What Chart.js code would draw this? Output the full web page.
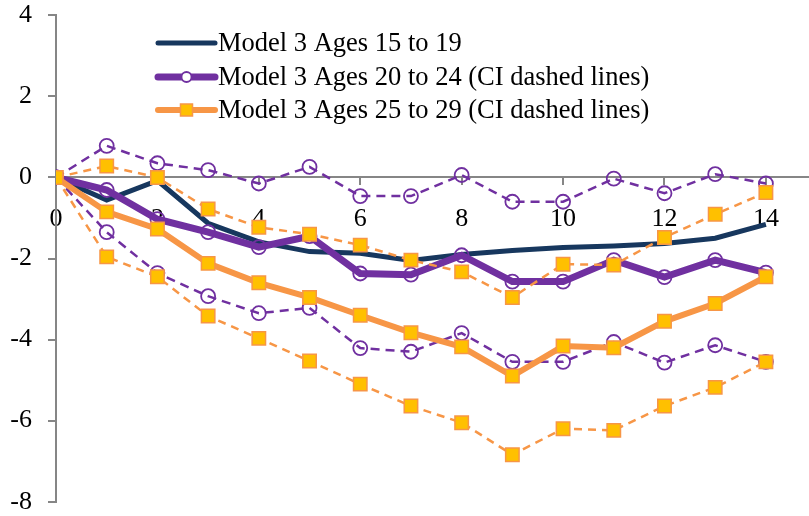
<!DOCTYPE html>
<html>
<head>
<meta charset="utf-8">
<script src="https://cdn.jsdelivr.net/npm/chart.js@4.4.1/dist/chart.umd.min.js"></script>
<style>
html,body{margin:0;padding:0;background:#fff;}
#wrap{width:809px;height:516px;position:relative;}
</style>
</head>
<body>
<div id="wrap"><canvas id="c" width="809" height="516"></canvas></div>
<script>
const years = [0,1,2,3,4,5,6,7,8,9,10,11,12,13,14];
const xTickValues = [0,2,4,6,8,10,12,14];
const yTickValues = [-8,-6,-4,-2,0,2,4];

const ages1519 = [0,-0.56,-0.08,-1.13,-1.59,-1.83,-1.87,-2.05,-1.9,-1.8,-1.73,-1.69,-1.63,-1.5,-1.16];
const ages2024 = [0,-0.31,-1.03,-1.35,-1.72,-1.45,-2.37,-2.4,-1.92,-2.57,-2.57,-2.04,-2.46,-2.04,-2.35];
const ages2024Upper = [0,0.78,0.35,0.18,-0.15,0.26,-0.46,-0.46,0.06,-0.6,-0.6,-0.03,-0.39,0.08,-0.15];
const ages2024Lower = [0,-1.35,-2.36,-2.93,-3.35,-3.22,-4.21,-4.3,-3.84,-4.55,-4.55,-4.06,-4.57,-4.14,-4.55];
const ages2529 = [0,-0.85,-1.27,-2.12,-2.6,-2.96,-3.4,-3.83,-4.18,-4.9,-4.16,-4.2,-3.55,-3.11,-2.45];
const ages2529Upper = [0,0.28,0,-0.78,-1.23,-1.4,-1.67,-2.04,-2.33,-2.96,-2.14,-2.16,-1.48,-0.91,-0.37];
const ages2529Lower = [0,-1.96,-2.45,-3.42,-3.97,-4.53,-5.1,-5.64,-6.05,-6.84,-6.2,-6.24,-5.64,-5.18,-4.55];

const legendLabels = [
  'Model 3 Ages 15 to 19',
  'Model 3 Ages 20 to 24 (CI dashed lines)',
  'Model 3 Ages 25 to 29 (CI dashed lines)'
];

const NAVY = '#17375E', PURPLE = '#7030A0', ORANGE = '#F79646', GOLD = '#FFC000', AXIS = '#868686';
const FONT = '"Liberation Serif", "Times New Roman", serif';

function pts(arr){ return arr.map((v,i)=>({x:years[i], y:v})); }

const datasets = [
  {label:legendLabels[0], data:pts(ages1519), borderColor:NAVY, borderWidth:5, pointRadius:0, order:6, showLegend:true},
  {label:legendLabels[1], data:pts(ages2024), borderColor:PURPLE, borderWidth:7, pointStyle:'circle', pointRadius:7, pointBorderWidth:1.8, pointBorderColor:PURPLE, pointBackgroundColor:'rgba(0,0,0,0)', order:4, showLegend:true, legendRadius:5},
  {label:'20-24 upper', data:pts(ages2024Upper), borderColor:PURPLE, borderWidth:2.5, borderDash:[9,6], pointStyle:'circle', pointRadius:7, pointBorderWidth:1.8, pointBorderColor:PURPLE, pointBackgroundColor:'rgba(0,0,0,0)', order:5},
  {label:'20-24 lower', data:pts(ages2024Lower), borderColor:PURPLE, borderWidth:2.5, borderDash:[9,6], pointStyle:'circle', pointRadius:7, pointBorderWidth:1.8, pointBorderColor:PURPLE, pointBackgroundColor:'rgba(0,0,0,0)', order:5},
  {label:legendLabels[2], data:pts(ages2529), borderColor:ORANGE, borderWidth:6, pointStyle:'rect', pointRadius:9.5, pointBorderWidth:1.5, pointBorderColor:ORANGE, pointBackgroundColor:GOLD, order:1, showLegend:true, legendRadius:8.5},
  {label:'25-29 upper', data:pts(ages2529Upper), borderColor:ORANGE, borderWidth:2.5, borderDash:[8,6], pointStyle:'rect', pointRadius:9.5, pointBorderWidth:1.5, pointBorderColor:ORANGE, pointBackgroundColor:GOLD, order:2},
  {label:'25-29 lower', data:pts(ages2529Lower), borderColor:ORANGE, borderWidth:2.5, borderDash:[8,6], pointStyle:'rect', pointRadius:9.5, pointBorderWidth:1.5, pointBorderColor:ORANGE, pointBackgroundColor:GOLD, order:2}
];
datasets.forEach(d=>{ d.tension=0; d.fill=false; d.pointHoverRadius=d.pointRadius; });

const legendPlugin = {
  id:'customLegend',
  afterDraw(chart){
    const ctx = chart.ctx;
    const items = chart.data.datasets.filter(d=>d.showLegend);
    const x0 = 158, x1 = 215, tx = 218, rows = [43, 77, 110];
    items.forEach((d,i)=>{
      const y = rows[i];
      const cx = (x0+x1)/2;
      ctx.save();
      ctx.strokeStyle = d.borderColor;
      ctx.lineWidth = d.borderWidth;
      ctx.lineCap = 'round';
      ctx.beginPath(); ctx.moveTo(x0,y); ctx.lineTo(x1,y); ctx.stroke();
      if (d.legendRadius) {
        ctx.strokeStyle = d.pointBorderColor;
        ctx.lineWidth = d.pointBorderWidth;
        ctx.beginPath();
        if (d.pointStyle === 'rect') {
          const s = Math.SQRT1_2 * d.legendRadius;
          ctx.rect(cx - s, y - s, 2*s, 2*s);
          ctx.fillStyle = d.pointBackgroundColor;
        } else {
          ctx.arc(cx, y, d.legendRadius, 0, Math.PI*2);
          ctx.fillStyle = '#fff';
        }
        ctx.fill(); ctx.stroke();
      }
      ctx.fillStyle = '#000';
      ctx.font = '26.5px ' + FONT;
      ctx.textBaseline = 'middle';
      ctx.textAlign = 'left';
      ctx.fillText(d.label, tx, y + 1);
      ctx.restore();
    });
  }
};

new Chart(document.getElementById('c'), {
  type:'line',
  data:{datasets},
  options:{
    responsive:false,
    animation:false,
    devicePixelRatio:1,
    layout:{autoPadding:false, padding:{left:10, right:0, top:15.3, bottom:14.3}},
    plugins:{legend:{display:false}, tooltip:{enabled:false}},
    scales:{
      x:{
        type:'linear',
        position:{y:0},
        min:0, max:14.85,
        afterBuildTicks(scale){ scale.ticks = xTickValues.map(v=>({value:v})); },
        afterFit(scale){ scale.paddingLeft = 0; scale.paddingRight = 0; scale.paddingTop = 0; scale.paddingBottom = 0; },
        grid:{drawOnChartArea:false, drawTicks:true, tickLength:7, color:AXIS, lineWidth:2},
        border:{display:true, color:AXIS, width:2},
        ticks:{color:'#000', font:{family:FONT, size:26}, padding:19, maxRotation:0, autoSkip:false}
      },
      y:{
        type:'linear',
        position:'left',
        min:-8, max:4,
        afterBuildTicks(scale){ scale.ticks = yTickValues.map(v=>({value:v})); },
        afterFit(scale){ scale.paddingTop = 0; scale.paddingBottom = 0; scale.width = 46; },
        grid:{drawOnChartArea:false, drawTicks:true, tickLength:8, color:AXIS, lineWidth:2},
        border:{display:true, color:AXIS, width:2},
        ticks:{color:'#000', font:{family:FONT, size:26}, padding:16}
      }
    }
  },
  plugins:[legendPlugin]
});
</script>
</body>
</html>
